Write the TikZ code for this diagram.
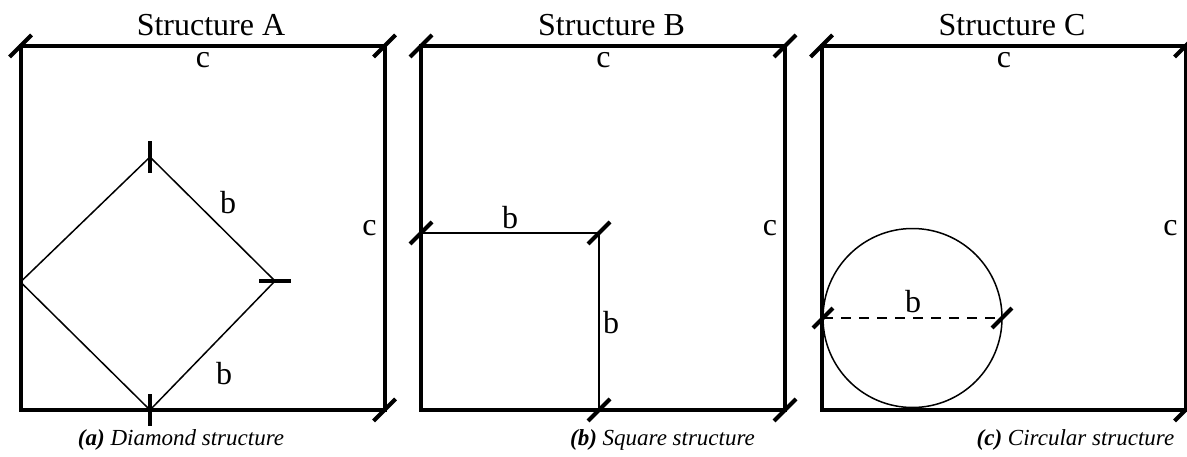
\documentclass[tikz,border=0pt]{standalone}
\usepackage{fontspec}
\setmainfont{Liberation Serif}
\usepackage{tikz}
\usetikzlibrary{calc}
\tikzset{
    every picture/.style={line join=miter},
    framebox/.style={draw=black,line width=2pt},
    thinline/.style={draw=black,line width=0.75pt},
    dimline/.style={thinline,dash pattern=on 5pt off 4pt},
    slashmk/.pic={\draw[line width=2pt] (-11,-11) -- (11,11);},
    lbl/.style={inner sep=0pt,font=\fontsize{16}{18}\selectfont},
    captext/.style={inner sep=0pt,font=\fontsize{11.5}{13}\selectfont\itshape}
}
\begin{document}
\begin{tikzpicture}[x=0.5pt,y=0.5pt]
  \useasboundingbox (0,0) rectangle (1187,456);
  % the three frames
  \foreach \ox/\tag/\cx/\sub/\word in {20.5/A/160.5/a/Diamond,421/B/241.5/b/Square,821.5/C/254/c/Circular}{
    \begin{scope}[shift={(\ox,46)}]
      \draw[framebox] (0,0) rectangle (364,364);
      \pic at (0,364) {slashmk};
      \pic at (364,364) {slashmk};
      \pic at (364,0) {slashmk};
      \node[lbl] (title\tag) at (190.5,385) {Structure \tag};
      \node[lbl] (ctop\tag) at (182.5,350) {c};
      \node[lbl] (cside\tag) at (349,182) {c};
      \node[captext] (cap\tag) at (\cx,-30) {\textbf{(\sub)} \word{} structure};
    \end{scope}
  }
  % diamond
  \begin{scope}[shift={(20.5,46)}]
    \coordinate (dl) at (0,128);
    \coordinate (dt) at (129.5,253);
    \coordinate (dr) at (254.5,129);
    \coordinate (db) at (129.5,0);
    \draw[thinline] (dl) -- (dt) -- (dr) -- (db) -- cycle;
    \pic[rotate=45] at (dt) {slashmk};
    \pic[rotate=-45] at (dr) {slashmk};
    \pic[rotate=45] at (db) {slashmk};
    \node[lbl] (bup) at (207.5,207) {b};
    \node[lbl] (blow) at (203.5,36) {b};
  \end{scope}
  % square
  \begin{scope}[shift={(421,46)}]
    \coordinate (sl) at (0,177);
    \coordinate (sr) at (178,177);
    \coordinate (sb) at (178,0);
    \draw[thinline] (sl) -- (sr) -- (sb);
    \pic at (sl) {slashmk};
    \pic at (sr) {slashmk};
    \pic at (sb) {slashmk};
    \node[lbl] (btop) at (89,192) {b};
    \node[lbl] (bside) at (190,87) {b};
  \end{scope}
  % circle
  \begin{scope}[shift={(821.5,46)}]
    \coordinate (cc) at (91,92);
    \coordinate (cl) at ($(cc)+(-89.5,0)$);
    \coordinate (cr) at ($(cc)+(89.5,0)$);
    \draw[thinline] (cc) circle[radius=89.5];
    \draw[dimline] (cl) -- (cr);
    \pic[scale=0.9] at (cl) {slashmk};
    \pic[scale=0.9] at (cr) {slashmk};
    \node[lbl] (bdiam) at (91.5,108) {b};
  \end{scope}
\end{tikzpicture}
\end{document}
